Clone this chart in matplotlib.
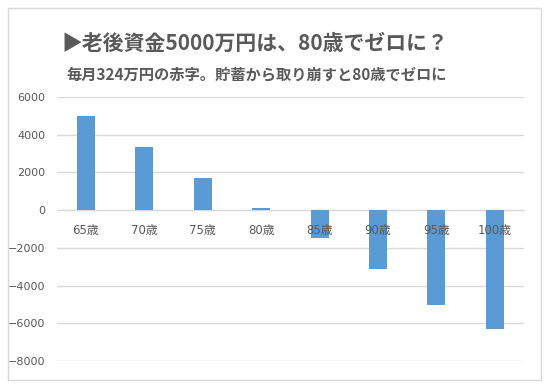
"""Retirement savings drawdown chart: 5000万円 runs out around age 80."""

import matplotlib

matplotlib.use("Agg")
import matplotlib.pyplot as plt
from matplotlib.patches import Rectangle

plt.rcParams["font.family"] = ["Noto Sans CJK JP", "DejaVu Sans"]

ages = ["65歳", "70歳", "75歳", "80歳", "85歳", "90歳", "95歳", "100歳"]
balance = [5000, 3360, 1720, 100, -1500, -3130, -5040, -6320]
y_ticks = [6000, 4000, 2000, 0, -2000, -4000, -6000, -8000]

title = "▶老後資金5000万円は、80歳でゼロに？"
subtitle = "毎月324万円の赤字。貯蓄から取り崩すと80歳でゼロに"

BAR_COLOR = "#5b9bd5"
TEXT_COLOR = "#595959"
GRID_COLOR = "#d9d9d9"
TICK_FONT = ["DejaVu Sans", "Noto Sans CJK JP"]

fig = plt.figure(figsize=(5.5, 3.87), dpi=100)
fig.patches.append(Rectangle((7.5 / 550, 1 - 379.5 / 387), 533.5 / 550, 372 / 387,
                             transform=fig.transFigure, fill=False,
                             edgecolor=GRID_COLOR, linewidth=1))

ax = fig.add_axes([56.7 / 550, 1 - 361 / 387, 467.3 / 550, 264 / 387])
positions = range(len(ages))
ax.bar(positions, balance, width=0.31, color=BAR_COLOR, zorder=2)

ax.set_xlim(-0.5, len(ages) - 0.5)
ax.set_ylim(min(y_ticks), max(y_ticks))
ax.set_yticks(y_ticks)
ax.set_xticks(list(positions), ages)

ax.set_axisbelow(True)
ax.xaxis.set_zorder(5)
ax.yaxis.grid(True, color=GRID_COLOR, linewidth=1)
for side in ["top", "right", "left"]:
    ax.spines[side].set_visible(False)
ax.spines["bottom"].set_position(("data", 0))
ax.spines["bottom"].set_color(GRID_COLOR)
ax.spines["bottom"].set_zorder(0.5)

ax.tick_params(axis="x", length=0, pad=10, labelsize=8.5, labelcolor=TEXT_COLOR)
ax.tick_params(axis="y", length=0, pad=8, labelsize=8, labelcolor=TEXT_COLOR)
for label in ax.get_xticklabels() + ax.get_yticklabels():
    label.set_family(TICK_FONT)

fig.text(255 / 550, 1 - 43 / 387, title, ha="center", va="center",
         fontsize=15, fontweight="bold", color=TEXT_COLOR)
fig.text(257 / 550, 1 - 74 / 387, subtitle, ha="center", va="center",
         fontsize=11, fontweight="bold", color=TEXT_COLOR)

fig.savefig("out.png", dpi=100)
